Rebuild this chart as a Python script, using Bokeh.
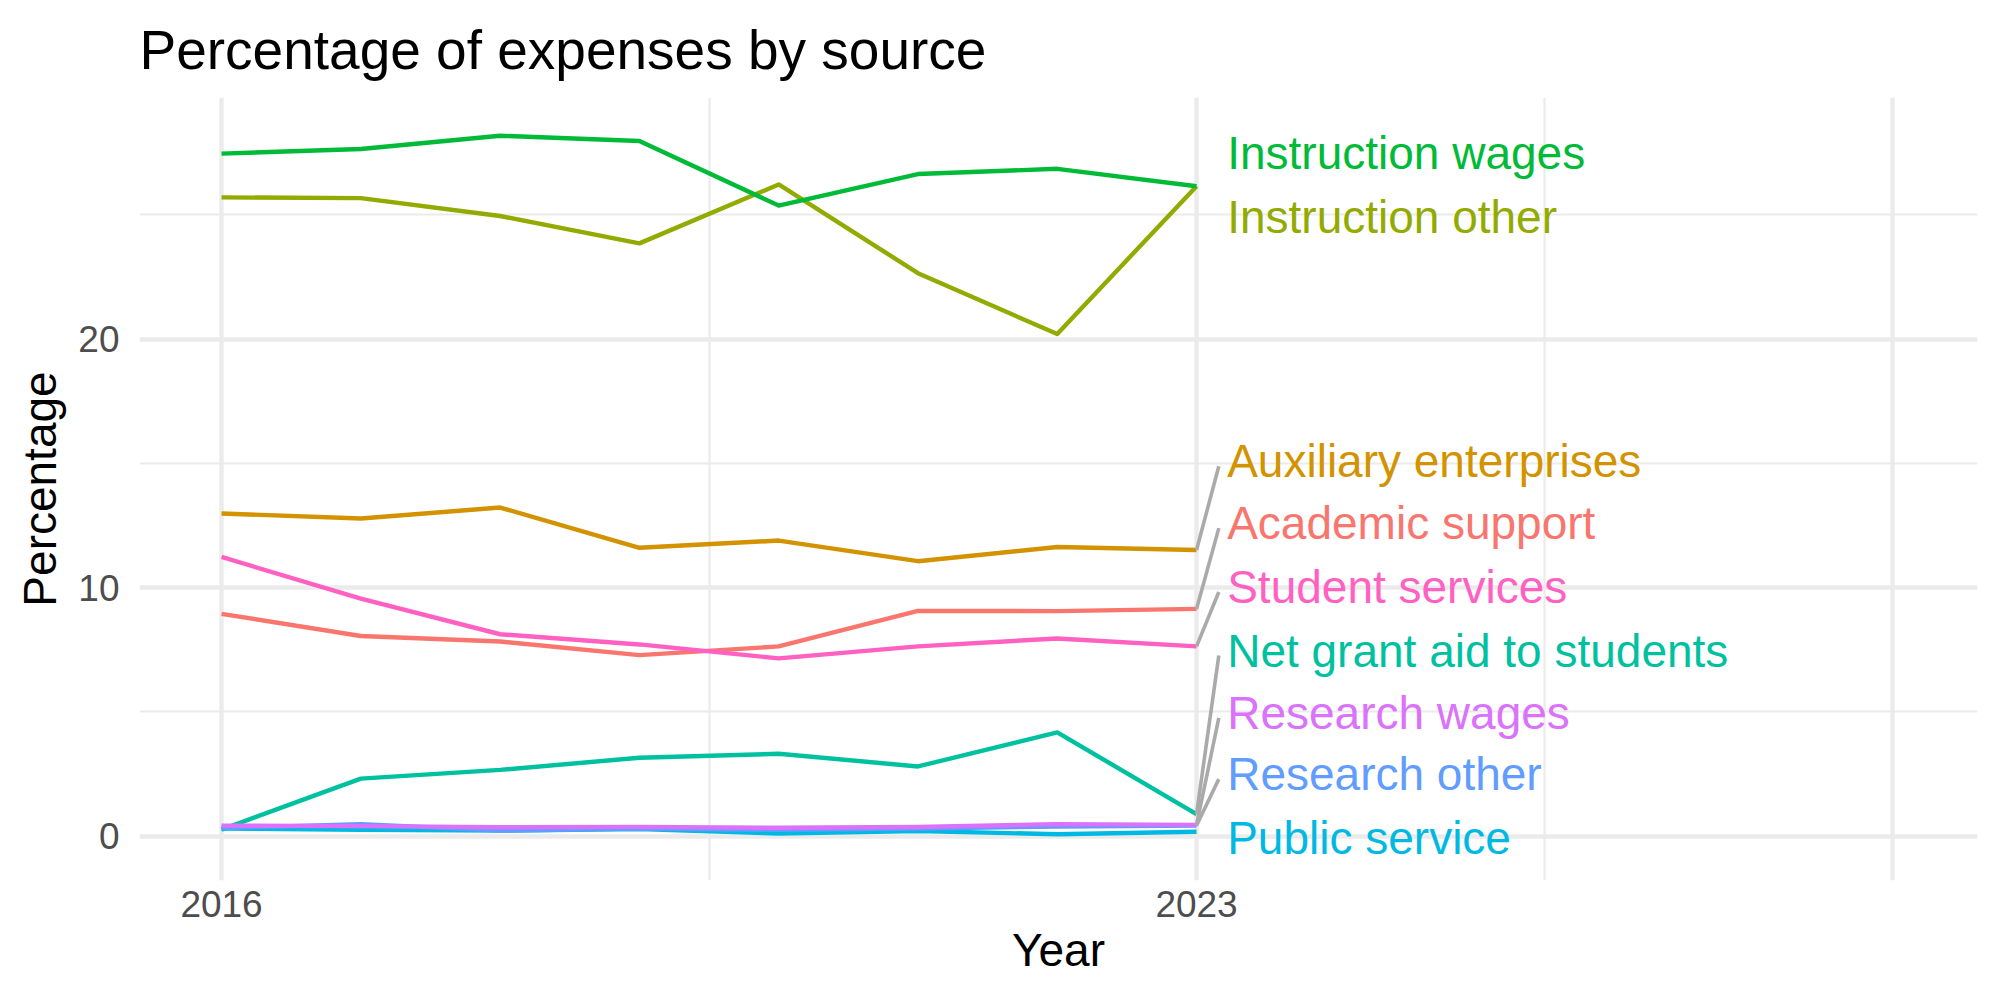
from bokeh.plotting import figure
from bokeh.models import Range1d, FixedTicker, ColumnDataSource
from bokeh.core.properties import value
from bokeh.embed import file_html
from bokeh.resources import INLINE

# ---- data: share of expenses (%) by source, fiscal years 2016-2023 ----
years = [2016, 2017, 2018, 2019, 2020, 2021, 2022, 2023]

academic_support      = [8.94, 8.05, 7.83, 7.28, 7.63, 9.06, 9.05, 9.14]
auxiliary_enterprises = [12.98, 12.78, 13.22, 11.60, 11.89, 11.06, 11.63, 11.51]
instruction_other     = [25.70, 25.67, 24.95, 23.85, 26.22, 22.65, 20.20, 26.15]
instruction_wages     = [27.46, 27.65, 28.18, 27.97, 25.37, 26.64, 26.85, 26.15]
net_grant_aid         = [0.26, 2.31, 2.66, 3.15, 3.31, 2.80, 4.17, 0.88]
public_service        = [0.30, 0.25, 0.22, 0.28, 0.10, 0.20, 0.07, 0.17]
research_other        = [0.32, 0.48, 0.22, 0.30, 0.25, 0.30, 0.38, 0.42]
research_wages        = [0.42, 0.40, 0.35, 0.37, 0.33, 0.36, 0.48, 0.45]
student_services      = [11.23, 9.55, 8.12, 7.71, 7.15, 7.63, 7.95, 7.63]

sources = [
    "Academic support", "Auxiliary enterprises", "Instruction other",
    "Instruction wages", "Net grant aid to students", "Public service",
    "Research other", "Research wages", "Student services",
]
series = [
    academic_support, auxiliary_enterprises, instruction_other,
    instruction_wages, net_grant_aid, public_service,
    research_other, research_wages, student_services,
]

x_ticks = [2016, 2023, 2028]
x_tick_labels = {2016: "2016", 2023: "2023", 2028: ""}
y_ticks = [0, 10, 20]

# ---- styling / layout ----
palette = ["#F8766D", "#D39200", "#93AA00", "#00BA38", "#00C19F",
           "#00B9E3", "#619CFF", "#DB72FB", "#FF61C3"]
# vertical placement of the end-of-line labels (stacked to avoid overlap)
label_pos = {
    "Instruction wages": 27.49, "Instruction other": 24.91,
    "Auxiliary enterprises": 15.08, "Academic support": 12.59,
    "Student services": 10.02, "Net grant aid to students": 7.46,
    "Research wages": 4.95, "Research other": 2.49, "Public service": -0.07,
}
# labels that sit close enough to their line end to need no leader
no_leader = {"Instruction wages", "Instruction other", "Public service"}
label_dx = 0.22
leader_dx = 0.16
leader_drop = 0.2

FONT = "Liberation Sans"
GRID = "#EBEBEB"

p = figure(
    width=2000, height=1000,
    x_range=Range1d(2015.411, 2028.607),
    y_range=Range1d(-1.79, 29.72),
    output_backend="svg", toolbar_location=None,
    min_border_left=139, min_border_right=23,
    min_border_top=96, min_border_bottom=120,
)
p.outline_line_color = None
p.background_fill_color = "white"
p.border_fill_color = "white"

p.title.text = "Percentage of expenses by source"
p.title.text_font = FONT
p.title.text_font_size = "55px"
p.title.text_font_style = "normal"
p.title.text_color = "black"
p.title.align = "left"
p.title.offset = 0
p.title.standoff = 33

p.xaxis.ticker = FixedTicker(ticks=x_ticks, minor_ticks=[2019.5, 2025.5])
p.xaxis.major_label_overrides = x_tick_labels
p.yaxis.ticker = FixedTicker(ticks=y_ticks, minor_ticks=[5, 15, 25])

for ax in (p.xaxis, p.yaxis):
    ax.axis_line_color = None
    ax.major_tick_line_color = None
    ax.minor_tick_line_color = None
    ax.major_tick_out = 0
    ax.major_tick_in = 0
    ax.minor_tick_out = 0
    ax.minor_tick_in = 0
    ax.major_label_text_font = FONT
    ax.major_label_text_font_size = "37px"
    ax.major_label_text_color = "#4D4D4D"
    ax.axis_label_text_font = FONT
    ax.axis_label_text_font_size = "46px"
    ax.axis_label_text_font_style = "normal"
    ax.axis_label_text_color = "black"

p.xaxis.axis_label = "Year"
p.yaxis.axis_label = "Percentage"
p.xaxis.major_label_standoff = 10
p.yaxis.major_label_standoff = 20
p.xaxis.axis_label_standoff = 4
p.yaxis.axis_label_standoff = 9

for g in (p.xgrid, p.ygrid):
    g.grid_line_color = GRID
    g.grid_line_width = 4.4
    g.minor_grid_line_color = GRID
    g.minor_grid_line_width = 2.2

# lines
for name, vals, col in zip(sources, series, palette):
    p.line(years, vals, line_color=col, line_width=4.4, line_cap="butt",
           line_join="round")

# leader segments from each line end to its label
x_end = years[-1]
seg = dict(x0=[], y0=[], x1=[], y1=[])
for name, vals in zip(sources, series):
    if name in no_leader:
        continue
    seg["x0"].append(x_end)
    seg["y0"].append(vals[-1])
    seg["x1"].append(x_end + leader_dx)
    seg["y1"].append(label_pos[name] - leader_drop)
p.segment(x0="x0", y0="y0", x1="x1", y1="y1", source=ColumnDataSource(seg),
          line_color="#AAAAAA", line_width=3.6)

# end-of-line labels
lab = ColumnDataSource(dict(
    x=[x_end + label_dx] * len(sources),
    y=[label_pos[n] for n in sources],
    text=sources,
    color=palette,
))
p.text(x="x", y="y", text="text", source=lab, text_color="color",
       text_font=value(FONT), text_font_size=value("46px"),
       text_align="left", text_baseline="alphabetic", y_offset=0)

open("out.html", "w").write(file_html(p, INLINE))
